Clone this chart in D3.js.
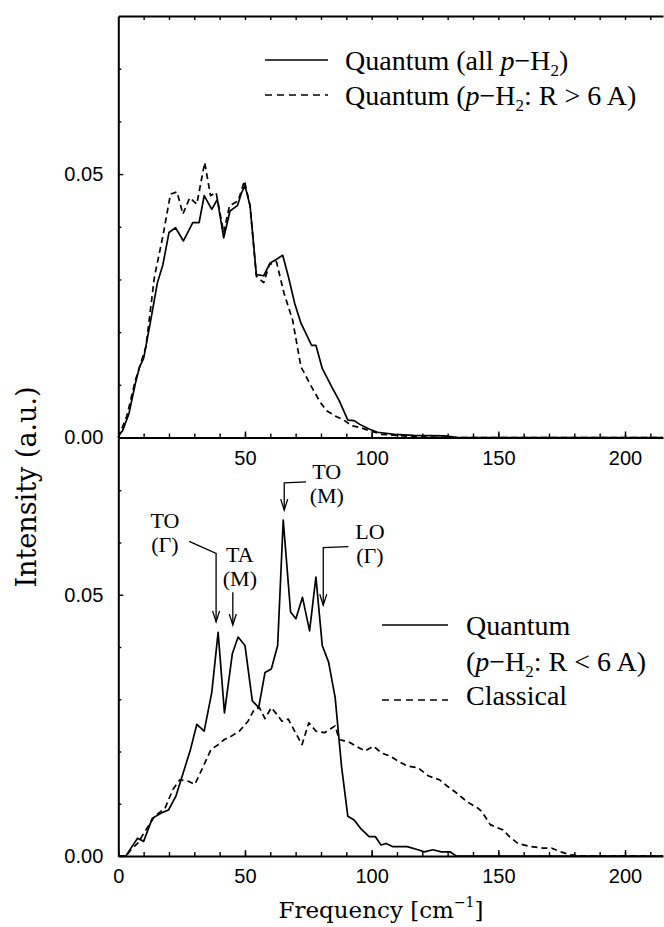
<!DOCTYPE html>
<html>
<head>
<meta charset="utf-8">
<script src="https://cdn.jsdelivr.net/npm/d3@7"></script>
<style>
  body { margin: 0; background: #fff; }
  svg { display: block; }
  .tick text { font-family: "Liberation Sans", Arial, sans-serif; font-size: 20px; fill: #000; }
  .serif { font-family: "Liberation Serif", "Times New Roman", serif; fill: #000; }
  .title { font-family: "DejaVu Serif", serif; fill: #000; }
</style>
</head>
<body>
<script>
// Chart setup
const w = 664;
const h = 927;

// Top panel: all p-H2 vs. p-H2 with R > 6 A
const topAllFreq = [0,0.5,1.7,4.2,6.7,8.4,10,12.6,15.4,17.6,20,22.6,25.7,29.4,31.9,33.9,36.9,39.1,41.6,44.1,47,48.7,50,52,54.5,57.4,59.9,61.7,64.9,67.1,69.6,72.1,76.3,78,80.5,84.7,87.2,90.6,93.1,95.6,99,102.3,109,116.6,129,134,215];
const topAll = [0,0.0006,0.0013,0.0045,0.0102,0.0134,0.015,0.0217,0.0293,0.0328,0.0389,0.0398,0.0373,0.0408,0.0408,0.0459,0.0433,0.0452,0.0379,0.043,0.044,0.0465,0.0478,0.044,0.0309,0.0307,0.0331,0.0336,0.0346,0.0306,0.0255,0.0217,0.0175,0.0175,0.0131,0.0092,0.007,0.0033,0.0032,0.0024,0.0016,0.001,0.0006,0.0004,0.0003,0,0];
const topOuterFreq = [0,0.5,3.4,6.7,10.9,14.3,17.6,20.6,23.2,25.5,28.2,31,34.1,36.4,38.6,41.6,43.9,47.3,49.8,52,54.5,57.4,59.6,62.4,65.4,68.8,72.1,76.3,79.7,82.2,85.6,89,92.3,95.6,99,104,112.4,121,131,215];
const topOuter = [0,0.0006,0.0041,0.0108,0.0172,0.0306,0.0382,0.0462,0.0466,0.0424,0.0455,0.0443,0.0522,0.0459,0.0465,0.0389,0.044,0.0449,0.0487,0.044,0.0306,0.0294,0.0328,0.0334,0.0274,0.0223,0.0134,0.0096,0.0067,0.0051,0.0041,0.0033,0.0022,0.0019,0.0013,0.0006,0.0003,0.0001,0,0];

// Bottom panel: quantum (R < 6 A) vs. classical
const botQuantumFreq = [0,3,5,7.6,10,13.4,16.8,19.8,22.7,26,28.5,31,33.9,36.9,39.4,41.9,45,47.3,50,52.9,55.4,57.9,60.4,62.9,65.1,68,70.1,72.7,75.5,78,80.5,83,85.6,88.1,90.6,93.1,95.6,99,101.5,103.7,105.7,108.2,114,118.3,120.8,124.2,127.5,130.9,133.4,215];
const botQuantum = [0,0,0.0015,0.0034,0.0028,0.0072,0.0082,0.0088,0.0114,0.0165,0.0204,0.0252,0.0239,0.0313,0.0428,0.0274,0.0387,0.0419,0.0403,0.0297,0.0284,0.0351,0.0358,0.0403,0.0643,0.0467,0.0454,0.0495,0.0431,0.0534,0.0403,0.0371,0.0303,0.0172,0.0076,0.0069,0.0053,0.0037,0.0037,0.0021,0.0024,0.0018,0.0018,0.0012,0.0008,0.0012,0.0008,0.0008,0,0];
const botClassicalFreq = [0,3,5,7.6,10.9,14.3,18.5,21.5,24.3,27.7,30.2,33.6,36.6,39.4,41.9,44.5,47.8,51.2,53.7,55.7,57.9,60.4,62.1,64.6,67.1,69.6,72.5,75.2,78,81.4,85.6,87.2,91.4,94,97.3,100.7,104,107.4,110.7,114.1,118.3,122.5,126.7,130,133.4,137.6,141.8,143.5,146.8,151.8,154.4,157.7,162.8,167.8,171.1,174.5,178.7,183,215];
const botClassical = [0,0,0.0012,0.0024,0.005,0.0076,0.0092,0.0127,0.0146,0.0143,0.0137,0.0172,0.0204,0.0213,0.0223,0.0229,0.0239,0.0258,0.0281,0.0284,0.0263,0.0284,0.0274,0.0258,0.0262,0.0239,0.0213,0.0255,0.0239,0.0236,0.0249,0.0223,0.0217,0.021,0.0201,0.021,0.0197,0.0191,0.0181,0.0172,0.0169,0.0153,0.0146,0.0133,0.0121,0.0104,0.0092,0.0085,0.006,0.005,0.0037,0.0024,0.0018,0.0015,0.0015,0.0008,0.0002,0,0];

// Tick values
const xMajor = [0, 50, 100, 150, 200];
const xMinor = d3.range(10, 215, 10);
const yMajor = [0, 0.05];
const yMinor = [0.01, 0.02, 0.03, 0.04, 0.06, 0.07];

// Phonon mode labels (bottom panel)
const modeNames = ["TO", "TA", "TO", "LO"];
const modePoints = ["(\u0393)", "(M)", "(M)", "(\u0393)"];
const modeFreq = [38.6, 45.2, 65.5, 80.9];      // arrow position
const modeTip = [0.0448, 0.0442, 0.0662, 0.048]; // arrow tip
const modeBend = [0.0579, 0.0505, 0.0714, 0.059]; // top of vertical stem
const modeLeadFreq = [28.0, null, 74.1, 90.8];   // leader start
const modeLeadVal = [0.0602, null, 0.0716, 0.0592];
const modeLabelFreq = [18.4, 48.0, 82.3, 99.3];
const modeLabelVal = [0.0628, 0.0563, 0.0721, 0.0606];

// Scales
const x = d3.scaleLinear().domain([0, 215]).range([118.3, 663]);
const yTop = d3.scaleLinear().domain([0, 0.08]).range([437.5, 16]);
const yBot = d3.scaleLinear().domain([0, 0.08]).range([856, 438]);

const svg = d3.select("body")
    .append("svg")
    .attr("width", w)
    .attr("height", h)

svg.append("rect").attr("width", w).attr("height", h).attr("fill", "#fff")

function styleAxis(g, width) {
    g.selectAll(".domain").attr("stroke-width", width)
    g.selectAll(".tick line").attr("stroke-width", 1.4)
    g.attr("font-family", null).attr("font-size", null)
}

function xAxes(y0, labels) {
    svg.append("g")
        .attr("transform", `translate(0, ${y0})`)
        .call(d3.axisBottom(x).tickValues(xMinor).tickSizeInner(-4).tickSizeOuter(0).tickFormat(""))
        .call(styleAxis, 2)
    const major = svg.append("g")
        .attr("transform", `translate(0, ${y0})`)
        .call(d3.axisBottom(x).tickValues(labels).tickSizeInner(-6).tickSizeOuter(0).tickPadding(13))
        .call(styleAxis, 2)
    major.select(".domain").remove()
}

function yAxes(scale) {
    svg.append("g")
        .attr("transform", `translate(${x(0)}, 0)`)
        .call(d3.axisLeft(scale).tickValues(yMinor).tickSizeInner(-3).tickSizeOuter(0).tickFormat(""))
        .call(styleAxis, 2)
    const major = svg.append("g")
        .attr("transform", `translate(${x(0)}, 0)`)
        .call(d3.axisLeft(scale).tickValues(yMajor).tickSizeInner(-5).tickSizeOuter(0).tickPadding(15).tickFormat(d3.format(".2f")))
        .call(styleAxis, 2)
    major.select(".domain").remove()
}

// top frame edge with inward ticks
svg.append("g")
    .attr("transform", `translate(0, ${yTop(0.08)})`)
    .call(d3.axisTop(x).tickValues(xMinor).tickSizeInner(-4).tickSizeOuter(0).tickFormat(""))
    .call(styleAxis, 2)

xAxes(yTop(0), [50, 100, 150, 200])
xAxes(yBot(0), xMajor)
yAxes(yTop)
yAxes(yBot)

// Curves
const lineOf = (scale) => d3.line().x(d => x(d[0])).y(d => scale(d[1]))

function drawCurve(freq, vals, scale, dashed) {
    svg.append("path")
        .datum(d3.zip(freq, vals))
        .attr("fill", "none")
        .attr("stroke", "#000")
        .attr("stroke-width", 1.7)
        .attr("stroke-linejoin", "round")
        .attr("stroke-dasharray", dashed ? "6,4" : null)
        .attr("d", lineOf(scale))
}

drawCurve(topOuterFreq, topOuter, yTop, true)
drawCurve(topAllFreq, topAll, yTop, false)
drawCurve(botClassicalFreq, botClassical, yBot, true)
drawCurve(botQuantumFreq, botQuantum, yBot, false)

// Legend helper: text with italic p and subscript 2
function h2Label(t, before, after) {
    t.append("tspan").text(before)
    t.append("tspan").attr("font-style", "italic").text("p")
    t.append("tspan").text("\u2212H")
    t.append("tspan").attr("font-size", 17).attr("dy", 6).text("2")
    t.append("tspan").attr("dy", -6).text(after)
}

function legendLine(x1, x2, y, dashed) {
    svg.append("line")
        .attr("x1", x1).attr("x2", x2).attr("y1", y).attr("y2", y)
        .attr("stroke", "#000").attr("stroke-width", 1.6)
        .attr("stroke-dasharray", dashed ? "7,5" : null)
}

const legendSize = 28

// top legend
legendLine(265, 328, 60, false)
legendLine(265, 328, 95, true)
h2Label(svg.append("text").attr("class", "serif").attr("x", 345).attr("y", 70).attr("font-size", legendSize), "Quantum (all ", ")")
h2Label(svg.append("text").attr("class", "serif").attr("x", 345).attr("y", 105).attr("font-size", legendSize), "Quantum (", ": R > 6 A)")

// bottom legend
legendLine(382, 448, 625, false)
legendLine(382, 448, 700, true)
svg.append("text").attr("class", "serif").attr("x", 466).attr("y", 635).attr("font-size", legendSize).text("Quantum")
h2Label(svg.append("text").attr("class", "serif").attr("x", 466).attr("y", 671).attr("font-size", legendSize), "(", ": R < 6 A)")
svg.append("text").attr("class", "serif").attr("x", 466).attr("y", 705).attr("font-size", legendSize).text("Classical")

// Mode annotations
modeNames.forEach((name, i) => {
    const ax = x(modeFreq[i])
    const pts = []
    if (modeLeadFreq[i] !== null) pts.push([x(modeLeadFreq[i]), yBot(modeLeadVal[i])])
    pts.push([ax, yBot(modeBend[i])])
    pts.push([ax, yBot(modeTip[i])])
    svg.append("path")
        .attr("d", d3.line()(pts))
        .attr("fill", "none").attr("stroke", "#000").attr("stroke-width", 1.3)
    const tip = yBot(modeTip[i])
    svg.append("path")
        .attr("d", `M${ax - 3.5},${tip - 11}L${ax},${tip}L${ax + 3.5},${tip - 11}`)
        .attr("fill", "none").attr("stroke", "#000").attr("stroke-width", 1.3)
    const lx = x(modeLabelFreq[i])
    const ly = yBot(modeLabelVal[i])
    svg.append("text").attr("class", "serif").attr("font-size", 22)
        .attr("text-anchor", "middle").attr("x", lx).attr("y", ly).text(name)
    svg.append("text").attr("class", "serif").attr("font-size", 22)
        .attr("text-anchor", "middle").attr("x", lx).attr("y", ly + 24).text(modePoints[i])
})

// Axis titles
svg.append("text")
    .attr("class", "title")
    .attr("font-size", 27)
    .attr("text-anchor", "middle")
    .attr("transform", "translate(36, 487) rotate(-90)")
    .text("Intensity (a.u.)")

const xt = svg.append("text")
    .attr("class", "title")
    .attr("font-size", 23)
    .attr("text-anchor", "middle")
    .attr("x", 381)
    .attr("y", 918)
xt.append("tspan").text("Frequency [cm")
xt.append("tspan").attr("font-size", 14).attr("dy", -11).text("\u22121")
xt.append("tspan").attr("dy", 11).text("]")
</script>
</body>
</html>
